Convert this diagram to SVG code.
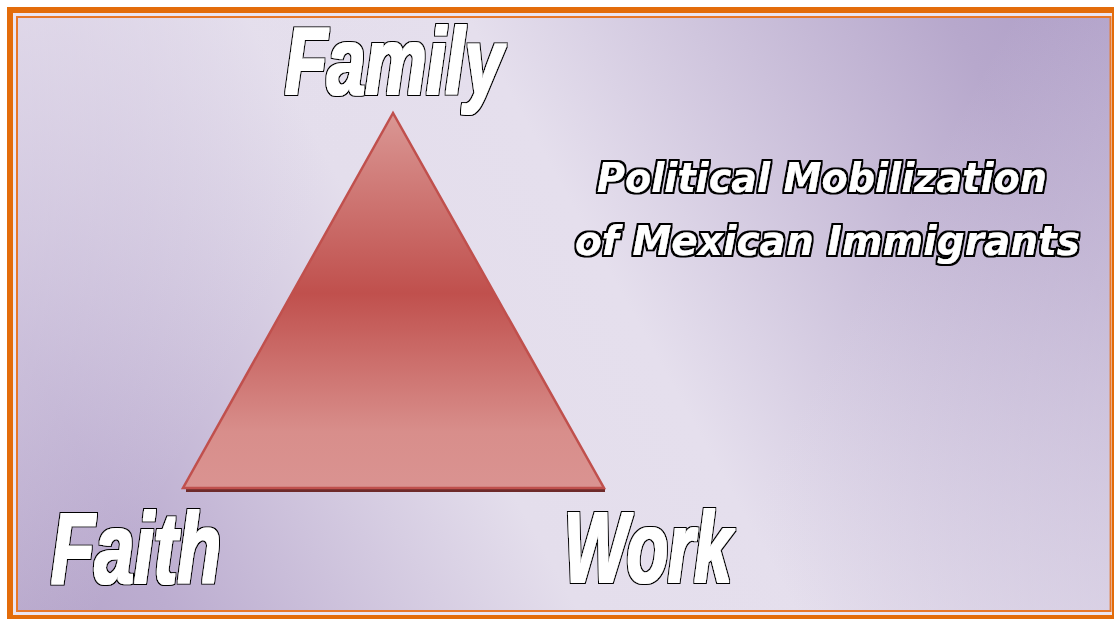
<svg xmlns="http://www.w3.org/2000/svg" width="1114" height="619" viewBox="0 0 1114 619">
<defs>
<linearGradient id="bg" x1="1114" y1="0" x2="0" y2="619" gradientUnits="userSpaceOnUse">
<stop offset="0" stop-color="#ad9cc6"/>
<stop offset="0.12" stop-color="#b7a8cc"/>
<stop offset="0.45" stop-color="#e5dfed"/>
<stop offset="0.6" stop-color="#e4deec"/>
<stop offset="0.88" stop-color="#bcadd0"/>
<stop offset="1" stop-color="#b3a2c8"/>
</linearGradient>
<linearGradient id="bg2" x1="0" y1="0" x2="1114" y2="619" gradientUnits="userSpaceOnUse">
<stop offset="0" stop-color="#e8e2ef" stop-opacity="0.7"/>
<stop offset="0.3" stop-color="#e6e0ee" stop-opacity="0"/>
<stop offset="0.7" stop-color="#e6e0ee" stop-opacity="0"/>
<stop offset="1" stop-color="#e6e0ee" stop-opacity="0.6"/>
</linearGradient>
<linearGradient id="tri" x1="0" y1="113" x2="0" y2="488" gradientUnits="userSpaceOnUse">
<stop offset="0" stop-color="#da9794"/>
<stop offset="0.48" stop-color="#c0504d"/>
<stop offset="0.85" stop-color="#d88e8b"/>
<stop offset="1" stop-color="#da9391"/>
</linearGradient>
<filter id="heavy" x="-10%" y="-20%" width="120%" height="140%">
<feMorphology in="SourceAlpha" operator="dilate" radius="0.6" result="w"/>
<feMorphology in="SourceAlpha" operator="dilate" radius="2.4" result="b"/>
<feFlood flood-color="#000000"/>
<feComposite in2="b" operator="in" result="black"/>
<feFlood flood-color="#ffffff"/>
<feComposite in2="w" operator="in" result="white"/>
<feMerge><feMergeNode in="black"/><feMergeNode in="white"/></feMerge>
</filter>
<filter id="heavy2" x="-5%" y="-30%" width="110%" height="160%">
<feMorphology in="SourceAlpha" operator="dilate" radius="1.8" result="b"/>
<feFlood flood-color="#000000"/>
<feComposite in2="b" operator="in" result="black"/>
<feFlood flood-color="#ffffff"/>
<feComposite in2="SourceAlpha" operator="in" result="white"/>
<feMerge><feMergeNode in="black"/><feMergeNode in="white"/></feMerge>
</filter>
<style>
.lbl{font-family:"Liberation Sans","Arial",sans-serif;font-weight:bold;font-style:italic;fill:#fff;filter:url(#heavy)}
.ttl{font-family:"DejaVu Sans","Verdana",sans-serif;font-weight:bold;font-style:italic;fill:#fff;filter:url(#heavy2)}
</style>
</defs>
<rect x="0" y="0" width="1114" height="619" fill="#ffffff"/>
<rect x="10" y="10" width="1105" height="608" fill="#ebe5f1" stroke="#e36c0a" stroke-width="6"/>
<rect x="17" y="17" width="1093.5" height="594" fill="url(#bg)" stroke="#e8782a" stroke-width="2"/>
<rect x="18" y="18" width="1091.5" height="592" fill="url(#bg2)"/>
<g id="connectors"></g>
<g id="triangle">
<line x1="186" y1="490.5" x2="605" y2="490.5" stroke="#6e2a2a" stroke-width="3"/>
<polygon points="393,113 183,488 604,488" fill="url(#tri)" stroke="#c0504d" stroke-width="2.5" stroke-linejoin="miter"/>
</g>
<g id="family"><text class="lbl" x="285" y="94" font-size="95" textLength="218" lengthAdjust="spacingAndGlyphs">Family</text></g>
<g id="faith"><text class="lbl" x="51" y="583" font-size="101" textLength="170" lengthAdjust="spacingAndGlyphs">Faith</text></g>
<g id="work"><text class="lbl" x="564" y="582" font-size="101" textLength="168" lengthAdjust="spacingAndGlyphs">Work</text></g>
<g id="title">
<text class="ttl" x="597" y="192" font-size="40" textLength="450" lengthAdjust="spacingAndGlyphs">Political Mobilization</text>
<text class="ttl" x="575" y="255" font-size="40" textLength="505" lengthAdjust="spacingAndGlyphs">of Mexican Immigrants</text>
</g>
</svg>
